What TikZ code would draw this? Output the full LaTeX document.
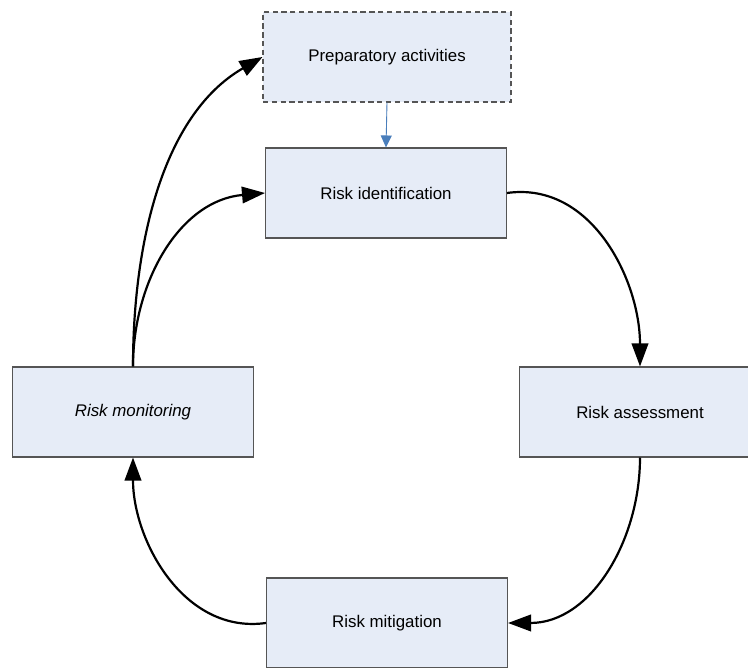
\documentclass[tikz,border=0pt]{standalone}
\usepackage{fontspec}
\setmainfont{Liberation Sans}
\usetikzlibrary{arrows.meta}
\definecolor{boxfill}{RGB}{230,236,247}
\definecolor{boxline}{RGB}{85,85,85}
\definecolor{linkblue}{RGB}{74,126,187}
\tikzset{
  stage/.style={draw=boxline,fill=boxfill,line width=0.6pt,minimum width=4.82cm,minimum height=1.8cm,font=\fontsize{9.6}{11}\selectfont},
  flow/.style={-{Triangle[length=0.46cm,width=0.33cm]},line width=1.25pt},
}
\begin{document}
\begin{tikzpicture}[x=0.02cm,y=0.02cm]
		\useasboundingbox (0,0) rectangle (748,668);
		\clip (0,0) rectangle (748,668);
		% the five stages
		\node[stage,dash pattern=on 3pt off 2pt,minimum width=4.96cm] (prep) at (387,611) {Preparatory activities};
		\node[stage] (ident) at (386,475) {Risk identification};
		\node[stage] (assess) at (640,256) {Risk assessment};
		\node[stage] (mitig) at (387,45) {Risk mitigation};
		\node[stage,font=\fontsize{9.6}{11}\selectfont\itshape] (monit) at (133,256) {Risk monitoring};
		% links round the cycle
		\draw[-{Triangle[length=0.24cm,width=0.22cm]},draw=linkblue,fill=linkblue,line width=0.5pt] (prep.south)--(ident.north);
		\draw[flow] (ident.east) to[out=8,in=90] (assess.north);
		\draw[flow] (assess.south) to[out=-90,in=0] (mitig.east);
		\draw[flow] (mitig.west) to[out=188,in=-90] (monit.south);
		\draw[flow] (monit.north) to[out=90,in=185] (ident.west);
		\draw[flow] (monit.north) to[out=90,in=210,looseness=0.9] (prep.west);
\end{tikzpicture}
\end{document}
